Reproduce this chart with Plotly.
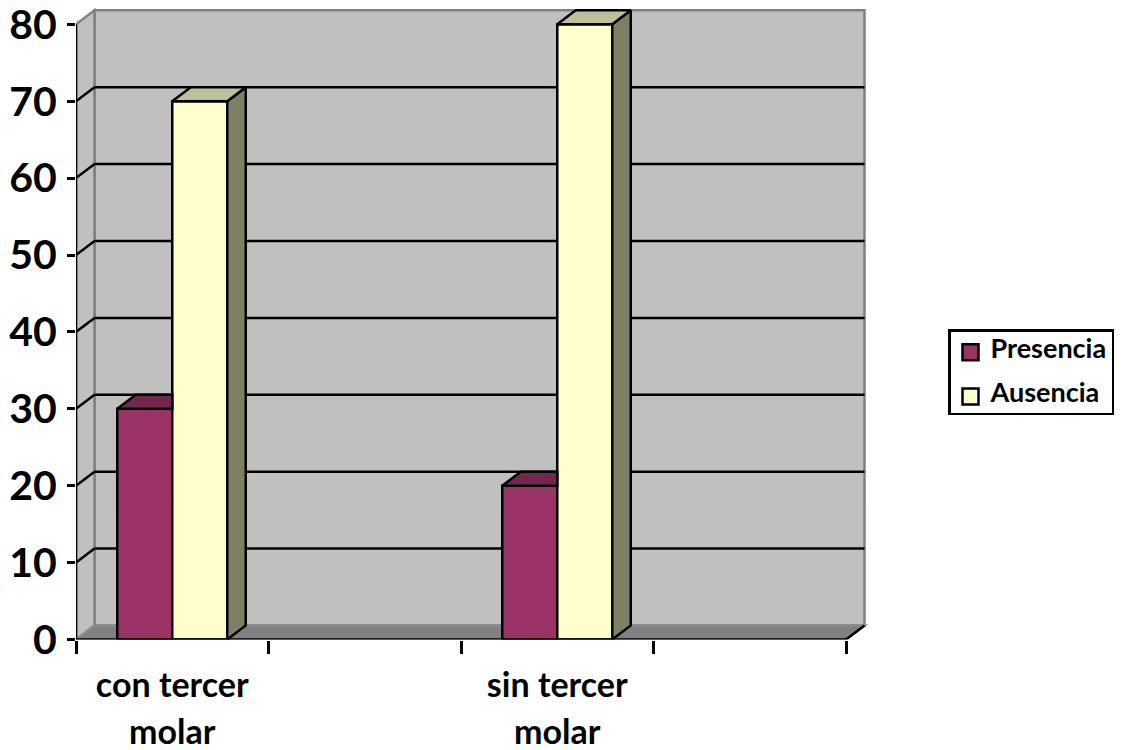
import plotly.graph_objects as go

categories = ["con tercer<br>molar", "", "sin tercer<br>molar", ""]
series_names = ["Presencia", "Ausencia"]
presencia = [30, None, 20, None]
ausencia = [70, None, 80, None]
y_ticks = [0, 10, 20, 30, 40, 50, 60, 70, 80]

W, H = 1124, 750
X0, XU = 76, 192.5      # pixel of x=0, pixels per category
Y0, YU = 639.5, 7.69    # pixel of y=0, pixels per y unit
XEND, YEND = 868, 8     # plot area limits in pixels
DX, DY = 18.5 / XU, 14 / YU  # 3D depth in data units
BW = 2 / 7              # bar width in categories
N = len(categories)
BLACK = "#000000"
GRAY = "#808080"
LW = 2.5
centers = [i + 0.5 for i in range(N)]
fonts = "Lato"


def poly(pts, fill, color, width=LW):
    return dict(type="path", layer="below", xref="x", yref="y", fillcolor=fill,
                line=dict(color=color, width=width),
                path="M" + "L".join(f"{x},{y}" for x, y in pts) + "Z")


def seg(x0, y0, x1, y1, color, width=LW):
    return dict(type="line", layer="below", xref="x", yref="y", x0=x0, y0=y0, x1=x1, y1=y1,
                line=dict(color=color, width=width))


def sized(text, px):
    return "<br>".join(f'<span style="font-size:{px}px">{t}</span>' for t in text.split("<br>")) if text else ""


top = max(y_ticks)
shapes = [
    poly([(DX, DY), (N + DX, DY), (N + DX, top + DY), (DX, top + DY)], "#C0C0C0", GRAY),
    poly([(0, 0), (DX, DY), (DX, top + DY), (0, top)], "#C0C0C0", GRAY),
]
for v in y_ticks[1:-1]:
    shapes.append(seg(DX, v + DY, N + DX, v + DY, BLACK))
    shapes.append(seg(0, v, DX, v + DY, BLACK))
shapes.append(poly([(0, 0), (DX, DY), (N + DX, DY), (N, 0)], "#808080", "#8c8c8c"))
shapes.append(seg(N, 0, N + DX, DY, BLACK))

fig = go.Figure()
front = ["#993366", "#FFFFCC"]
tops = ["#732650", "#BFBF99"]
sides = ["#4D1933", "#7F7F66"]
all_values = [presencia, ausencia]

for name, vals, col in zip(series_names, all_values, front):
    fig.add_bar(x=centers, y=vals, name=name, marker=dict(color=col, line=dict(color=BLACK, width=LW)),
                showlegend=False)


def face(pts, fill):
    xs = [p[0] for p in pts] + [pts[0][0]]
    ys = [p[1] for p in pts] + [pts[0][1]]
    fig.add_scatter(x=xs, y=ys, mode="lines", fill="toself", fillcolor=fill,
                    line=dict(color=BLACK, width=LW), showlegend=False,
                    hoverinfo="skip", cliponaxis=False)


for c, a, p in zip(centers, ausencia, presencia):
    if a is None:
        continue
    # Ausencia is the right-hand bar of each group
    xl, xm, xr = c - BW, c, c + BW
    face([(xl, p), (xl + DX, p + DY), (xm, p + DY), (xm, p)], tops[0])
    face([(xr, 0), (xr + DX, DY), (xr + DX, a + DY), (xr, a)], sides[1])
    face([(xm, a), (xm + DX, a + DY), (xr + DX, a + DY), (xr, a)], tops[1])

# axis lines
fig.add_scatter(x=[0, 0, N], y=[top, 0, 0], mode="lines", line=dict(color=BLACK, width=LW),
                showlegend=False, hoverinfo="skip", cliponaxis=False)

# legend entries
for name, col in zip(series_names, front):
    fig.add_scatter(x=[None], y=[None], mode="markers", name=sized(name, 27), legendgroup=name,
                    marker=dict(symbol="square", size=16, color=col, line=dict(color=BLACK, width=LW)))

fig.update_layout(
    width=W, height=H, margin=dict(l=0, r=0, t=0, b=0), autosize=False,
    paper_bgcolor="white", plot_bgcolor="white",
    barmode="group", bargap=1 - 2 * BW, bargroupgap=0,
    shapes=shapes,
    font=dict(family=fonts, color=BLACK),
    showlegend=True,
    legend=dict(x=948 / W, y=1 - 329 / H, xanchor="left", yanchor="top",
                bordercolor=BLACK, borderwidth=2.5, bgcolor="white",
                font=dict(family=fonts, size=14, weight="bold", color=BLACK),
                title=dict(text="&nbsp;", font=dict(family=fonts, size=4)),
                itemsizing="trace", tracegroupgap=23, traceorder="grouped",
                entrywidth=126, entrywidthmode="pixels"),
    xaxis=dict(domain=[X0 / W, XEND / W], range=[0, (XEND - X0) / XU], automargin=False,
               showgrid=False, zeroline=False, showline=False,
               tickmode="array", tickvals=centers, ticklabeloverflow="allow",
               ticktext=[sized(l, 34) for l in categories],
               ticks="outside", ticklen=13, tickcolor="rgba(0,0,0,0)",
               tickfont=dict(family=fonts, size=36, weight="bold", color=BLACK),
               tickangle=0,
               minor=dict(tickmode="array", tickvals=list(range(N + 1)), ticks="outside",
                          ticklen=13, tickwidth=LW, tickcolor=BLACK, showgrid=False)),
    yaxis=dict(domain=[1 - Y0 / H, 1 - YEND / H], range=[0, (Y0 - YEND) / YU], automargin=False,
               showgrid=False, zeroline=False, showline=False,
               tickmode="array", tickvals=y_ticks, ticklabeloverflow="allow",
               ticks="outside", ticklen=8, tickwidth=LW, tickcolor=BLACK,
               ticklabelstandoff=2,
               tickfont=dict(family=fonts, size=41, weight="bold", color=BLACK)),
)
fig.write_html("out.html", post_script="document.body.style.margin='0';",
               config=dict(displayModeBar=False))
